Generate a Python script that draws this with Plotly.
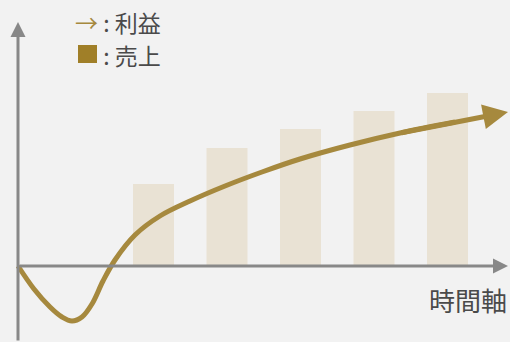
import plotly.graph_objects as go

# Data
bar_time = [1, 2, 3, 4, 5]
sales = [82, 118, 137, 155, 173]
profit_time = [-0.843, -0.626, -0.408, -0.245, -0.109, 0.027, 0.163, 0.313, 0.476, 0.748,
               1.088, 1.497, 1.973, 2.476, 2.993, 3.673, 4.354, 5.102, 5.823]
profit = [0, -23, -41, -51, -55, -51, -38, -15, 6, 31,
          50, 65, 80, 94, 107, 121, 133, 144, 154]
legend_labels = ["利益", "売上"]
axis_label = "時間軸"

GOLD = "#a6893e"
BAR = "#e9e2d4"
AXIS = "#888888"
TEXT = "#4a4a4a"
FONT = "Noto Sans CJK JP"

x0, x1 = -1.0884, 5.8503
y0, y1 = -76, 266
origin_x = -0.8435

fig = go.Figure()
fig.add_trace(go.Bar(x=bar_time, y=sales, marker=dict(color=BAR, line=dict(width=0)),
                     width=0.558, hoverinfo="skip"))
# smooth curve up to the second-to-last point; the final stretch is drawn as an arrow
fig.add_trace(go.Scatter(
    x=profit_time[:-1], y=profit[:-1], mode="lines",
    line=dict(color=GOLD, width=5, shape="spline", smoothing=1.0),
    hoverinfo="skip"))

annotations = [
    dict(x=origin_x, y=244, ax=origin_x, ay=y0, xref="x", yref="y", axref="x", ayref="y",
         showarrow=True, arrowhead=2, arrowsize=1.0, arrowwidth=3, arrowcolor=AXIS, text=""),
    dict(x=5.823, y=0, ax=origin_x, ay=0, xref="x", yref="y", axref="x", ayref="y",
         showarrow=True, arrowhead=2, arrowsize=1.0, arrowwidth=3, arrowcolor=AXIS, text=""),
    # profit arrow head (overlaps the last stretch of the curve)
    dict(x=profit_time[-1], y=profit[-1], ax=profit_time[-3], ay=profit[-3],
         xref="x", yref="y", axref="x", ayref="y",
         showarrow=True, arrowhead=2, arrowsize=1.0, arrowwidth=5, arrowcolor=GOLD, text=""),
    dict(x=509 / 510, y=1 - 299 / 342, xref="paper", yref="paper", xanchor="right", yanchor="middle",
         text=axis_label, showarrow=False, font=dict(family=FONT, size=26, color=TEXT)),
    dict(x=73 / 510, y=1 - 22 / 342, xref="paper", yref="paper", xanchor="left", yanchor="middle",
         text=f'<span style="color:{GOLD}">→</span> : {legend_labels[0]}', showarrow=False,
         font=dict(family=FONT, size=23, color=TEXT)),
    dict(x=73 / 510, y=1 - 55.5 / 342, xref="paper", yref="paper", xanchor="left", yanchor="middle",
         text=f'<span style="color:rgba(0,0,0,0)">→</span> : {legend_labels[1]}', showarrow=False,
         font=dict(family=FONT, size=23, color=TEXT)),
]

shapes = [
    dict(type="rect", xref="paper", yref="paper", x0=78 / 510, x1=97 / 510,
         y0=1 - 63 / 342, y1=1 - 45 / 342, fillcolor="#a07f28", line=dict(width=0)),
]

fig.update_layout(
    width=510, height=342, margin=dict(l=0, r=0, t=0, b=0),
    paper_bgcolor="#f2f2f2", plot_bgcolor="#f2f2f2",
    showlegend=False,
    xaxis=dict(range=[x0, x1], visible=False, fixedrange=True),
    yaxis=dict(range=[y0, y1], visible=False, fixedrange=True),
    annotations=annotations, shapes=shapes,
)
fig.write_html("out.html")
